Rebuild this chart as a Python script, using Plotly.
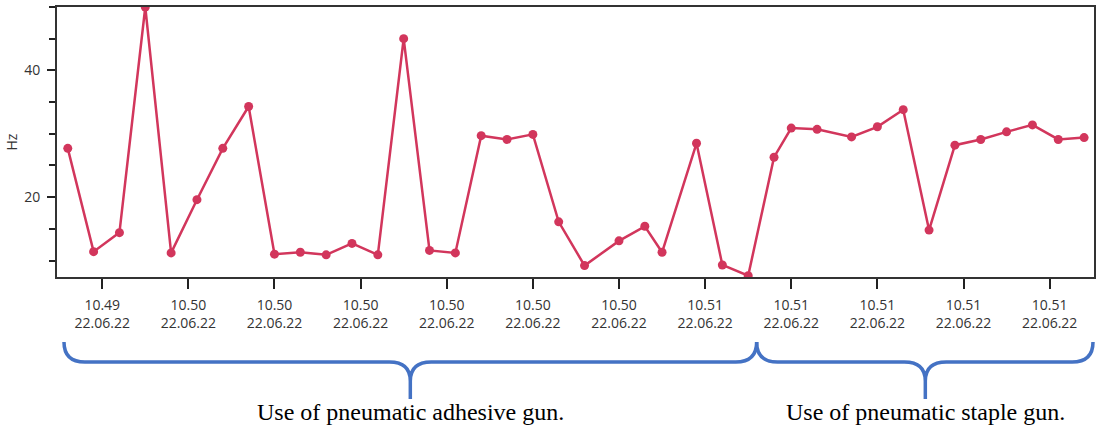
import plotly.graph_objects as go

# ---- data ----
times = [
    "2022-06-22 10:49:46", "2022-06-22 10:49:49", "2022-06-22 10:49:52", "2022-06-22 10:49:55",
    "2022-06-22 10:49:58", "2022-06-22 10:50:01", "2022-06-22 10:50:04", "2022-06-22 10:50:07",
    "2022-06-22 10:50:10", "2022-06-22 10:50:13", "2022-06-22 10:50:16", "2022-06-22 10:50:19",
    "2022-06-22 10:50:22", "2022-06-22 10:50:25", "2022-06-22 10:50:28", "2022-06-22 10:50:31",
    "2022-06-22 10:50:34", "2022-06-22 10:50:37", "2022-06-22 10:50:40", "2022-06-22 10:50:43",
    "2022-06-22 10:50:46", "2022-06-22 10:50:50", "2022-06-22 10:50:53", "2022-06-22 10:50:55",
    "2022-06-22 10:50:59", "2022-06-22 10:51:02", "2022-06-22 10:51:05", "2022-06-22 10:51:08",
    "2022-06-22 10:51:10", "2022-06-22 10:51:13", "2022-06-22 10:51:17", "2022-06-22 10:51:20",
    "2022-06-22 10:51:23", "2022-06-22 10:51:26", "2022-06-22 10:51:29", "2022-06-22 10:51:32",
    "2022-06-22 10:51:35", "2022-06-22 10:51:38", "2022-06-22 10:51:41", "2022-06-22 10:51:44",
]
hz = [
    27.7, 11.4, 14.4, 50.0, 11.2, 19.6, 27.7, 34.3, 11.0, 11.3,
    10.9, 12.7, 10.9, 45.0, 11.6, 11.2, 29.7, 29.1, 29.9, 16.1,
    9.2, 13.1, 15.4, 11.3, 28.5, 9.3, 7.6, 26.3, 30.9, 30.7,
    29.5, 31.1, 33.8, 14.8, 28.2, 29.1, 30.3, 31.4, 29.1, 29.4,
]
x_range = ["2022-06-22 10:49:44.75", "2022-06-22 10:51:45.15"]
y_range = [7.4, 50.0]
x_tick0 = "2022-06-22 10:49:50"
y_title = "Hz"
group_labels = ["Use of pneumatic adhesive gun.", "Use of pneumatic staple gun."]

# ---- layout geometry (pixels) ----
W, H = 1097, 428
L, R, T, B = 57, 1096, 7, 277

def px(x):
    return (x - L) / (R - L)

def py(y):
    return (B - y) / (B - T)

def brace(x0, xm, x1, ytop=342, yh=362, ytip=399, r=21):
    pts = [
        ("M", [(x0, ytop)]),
        ("Q", [(x0, yh), (x0 + r, yh)]),
        ("L", [(xm - r, yh)]),
        ("Q", [(xm, yh), (xm, yh + 19)]),
        ("L", [(xm, ytip)]),
        ("M", [(xm, yh + 19)]),
        ("Q", [(xm, yh), (xm + r, yh)]),
        ("L", [(x1 - r, yh)]),
        ("Q", [(x1, yh), (x1, ytop)]),
    ]
    s = ""
    for cmd, ps in pts:
        s += cmd + " " + " ".join(f"{px(a):.5f},{py(b):.5f}" for a, b in ps) + " "
    return s.strip()

line_col = "#D2365C"
brace_col = "#4472C4"

fig = go.Figure()
fig.add_trace(go.Scatter(
    x=times, y=hz, mode="lines+markers",
    line=dict(color=line_col, width=2.5),
    marker=dict(color=line_col, size=9),
    showlegend=False,
))

axis_font = dict(family="Open Sans, Noto Sans, sans-serif", size=14, color="#333333")

fig.update_layout(
    width=W, height=H,
    margin=dict(l=L, r=W - R, t=T, b=H - B, pad=0),
    paper_bgcolor="white", plot_bgcolor="white",
    xaxis=dict(
        type="date", range=x_range,
        tick0=x_tick0, dtick=10000,
        tickformat="%H.%M<br>%d.%m.%y",
        ticks="outside", ticklen=10, tickwidth=1.5, tickcolor="#222",
        showline=True, linecolor="#333", linewidth=2, mirror=True,
        showgrid=False, zeroline=False,
        tickfont=axis_font, ticklabelstandoff=4,
    ),
    yaxis=dict(
        range=y_range, tick0=0, dtick=20,
        ticks="outside", ticklen=8, tickwidth=1.5, tickcolor="#222",
        minor=dict(dtick=5, tick0=0, ticks="outside", ticklen=6, tickwidth=1.5, tickcolor="#222", showgrid=False),
        showline=True, linecolor="#333", linewidth=2, mirror=True,
        showgrid=False, zeroline=False,
        tickfont=axis_font, ticklabelstandoff=4,
        title=dict(text=y_title, font=dict(family="Open Sans, Noto Sans, sans-serif", size=14, color="#333"), standoff=3),
    ),
    shapes=[
        dict(type="path", xref="paper", yref="paper", path=brace(64, 411, 758),
             line=dict(color=brace_col, width=3.5)),
        dict(type="path", xref="paper", yref="paper", path=brace(758, 927, 1095),
             line=dict(color=brace_col, width=3.5)),
    ],
    annotations=[
        dict(text=group_labels[0], xref="paper", yref="paper", x=px(411), y=py(412),
             showarrow=False, xanchor="center", yanchor="middle",
             font=dict(family="Liberation Serif, Times New Roman, serif", size=24, color="black")),
        dict(text=group_labels[1], xref="paper", yref="paper", x=px(927), y=py(412),
             showarrow=False, xanchor="center", yanchor="middle",
             font=dict(family="Liberation Serif, Times New Roman, serif", size=24, color="black")),
    ],
)

fig.write_html("out.html", config={"displayModeBar": False},
               post_script="document.body.style.margin='0';document.body.style.overflow='hidden';")
